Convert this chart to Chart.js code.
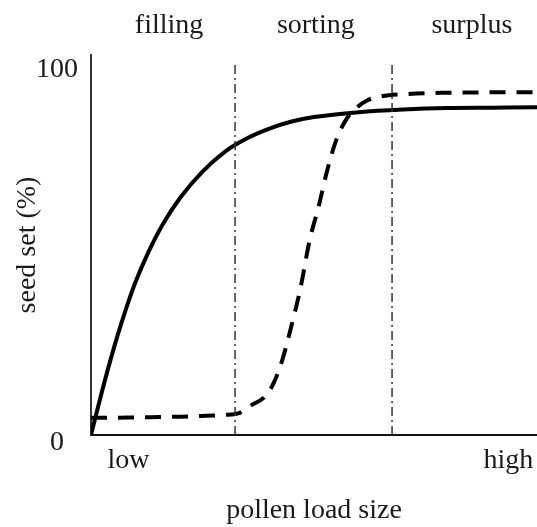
<!DOCTYPE html>
<html>
<head>
<meta charset="utf-8">
<script src="https://cdn.jsdelivr.net/npm/chart.js@4.4.1/dist/chart.umd.min.js"></script>
<style>
  html, body { margin: 0; padding: 0; background: #fff; }
</style>
</head>
<body>
<canvas id="seedChart" width="537" height="527"></canvas>
<script>
// pollen load (0 = low, 100 = high) and seed set (%)
const fillingLoad = [0, 2, 4, 6, 8, 10, 13, 16, 20, 25, 30, 35, 40, 45, 50, 60, 70, 80, 90, 100];
const fillingSeedSet = [0, 9.5, 18.5, 26.8, 34.3, 41, 49.3, 56.2, 63.5, 70.5, 75.8, 79.4, 82, 83.9, 85.1, 86.4, 87.1, 87.5, 87.6, 87.7];

const sortingLoad = [0, 5, 10, 15, 20, 25, 30, 33, 36, 39, 41, 43, 45, 47, 49, 51, 53, 55, 57, 59, 62, 65, 70, 80, 90, 100];
const sortingSeedSet = [4.6, 4.6, 4.7, 4.8, 4.9, 5.1, 5.4, 5.8, 8, 10.3, 14, 20.5, 29.5, 39.5, 52, 61, 71, 79, 84, 87, 89.6, 90.6, 91.2, 91.6, 91.7, 91.7];

// phase boundaries and labels
const phaseEdges = [32.3, 67.5];
const phaseNames = ["filling", "sorting", "surplus"];
const phaseCenters = [17.5, 50.4, 85.4];

const loadTickNames = ["low", "high"];
const loadTicks = [8.4, 93.6];
const seedTicks = [0, 100];

const font = { family: "'Liberation Serif', 'DejaVu Serif', serif", size: 28 };
const ink = "#1a1a1a";

const toPoints = (xs, ys) => xs.map((x, i) => ({ x: x, y: ys[i] }));

const edgeSets = phaseEdges.map(e => ({
  data: [{ x: e, y: 0 }, { x: e, y: 100 }],
  borderColor: "#333",
  borderWidth: 1.5,
  borderDash: [9, 4, 2, 4],
  pointRadius: 0,
}));

const noPad = s => { s.paddingLeft = 0; s.paddingRight = 0; s.paddingTop = 0; s.paddingBottom = 0; };

new Chart(document.getElementById("seedChart").getContext("2d"), {
  type: "line",
  data: {
    datasets: [
      ...edgeSets,
      {
        data: toPoints(fillingLoad, fillingSeedSet),
        borderColor: "#000",
        borderWidth: 4,
        pointRadius: 0,
        cubicInterpolationMode: "monotone",
      },
      {
        data: toPoints(sortingLoad, sortingSeedSet),
        borderColor: "#000",
        borderWidth: 4,
        borderDash: [16, 11],
        pointRadius: 0,
        cubicInterpolationMode: "monotone",
      },
    ],
  },
  options: {
    responsive: false,
    animation: false,
    layout: { padding: 0 },
    plugins: {
      legend: { display: false },
      tooltip: { enabled: false },
    },
    scales: {
      x: {
        type: "linear",
        position: "bottom",
        min: 0,
        max: 100,
        afterBuildTicks: s => { s.ticks = loadTicks.map(v => ({ value: v })); },
        afterFit: s => { s.height = 92; noPad(s); },
        grid: { display: false, drawTicks: false },
        border: { display: true, color: "#111", width: 2 },
        ticks: {
          font: font,
          color: ink,
          padding: 9,
          autoSkip: false,
          maxRotation: 0,
          callback: (v, i) => loadTickNames[i],
        },
        title: { display: true, text: "pollen load size", font: font, color: ink, padding: { top: 0, bottom: 0 } },
      },
      x2: {
        type: "linear",
        position: "top",
        min: 0,
        max: 100,
        afterBuildTicks: s => { s.ticks = phaseCenters.map(v => ({ value: v })); },
        afterFit: s => { s.height = 55; noPad(s); },
        grid: { display: false, drawTicks: false },
        border: { display: false },
        ticks: {
          font: font,
          color: ink,
          padding: 13,
          autoSkip: false,
          maxRotation: 0,
          callback: (v, i) => phaseNames[i],
        },
      },
      y: {
        type: "linear",
        min: 0,
        max: 101.7,
        afterBuildTicks: s => { s.ticks = seedTicks.map(v => ({ value: v })); },
        afterFit: s => { s.width = 91; noPad(s); },
        grid: { display: false, drawTicks: false },
        border: { display: true, color: "#333", width: 2 },
        ticks: {
          font: font,
          color: ink,
          padding: 13,
          crossAlign: "center",
          labelOffset: 8,
        },
        title: { display: true, text: "seed set (%)", font: font, color: ink, padding: { top: 11, bottom: 0 } },
      },
    },
  },
});
</script>
</body>
</html>
